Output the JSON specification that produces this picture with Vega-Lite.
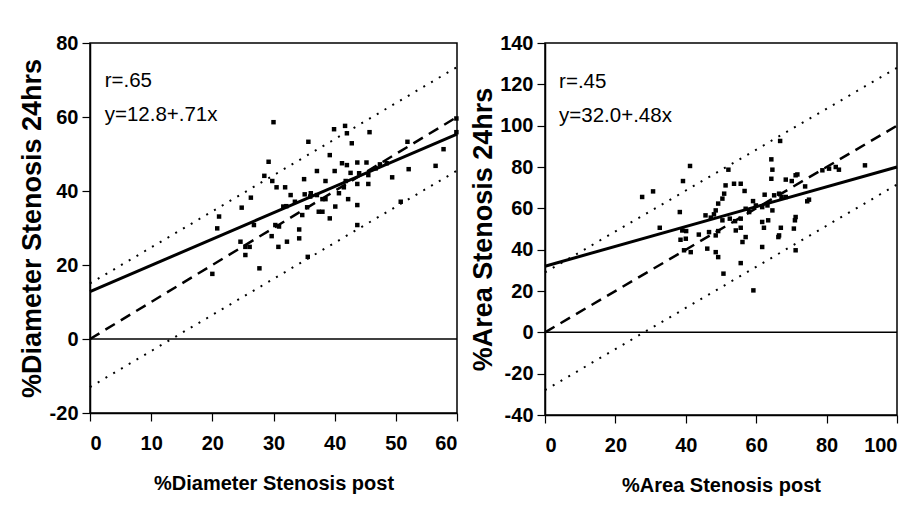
{
  "$schema": "https://vega.github.io/schema/vega-lite/v6.json",
  "background": "white",
  "padding": {"left": 17, "top": 32, "right": 5, "bottom": 5},
  "spacing": 88,
  "bounds": "flush",
  "datasets": {
    "diamPts": [
      {"x": 30.0, "y": 58.6}, {"x": 39.9, "y": 56.7}, {"x": 41.7, "y": 57.6}, {"x": 42.0, "y": 55.6},
      {"x": 45.7, "y": 55.9}, {"x": 35.7, "y": 53.3}, {"x": 42.8, "y": 52.9}, {"x": 51.9, "y": 53.3},
      {"x": 57.8, "y": 51.3}, {"x": 59.9, "y": 55.9}, {"x": 59.9, "y": 59.6}, {"x": 39.2, "y": 49.7},
      {"x": 29.2, "y": 47.9}, {"x": 41.2, "y": 47.5}, {"x": 42.0, "y": 47.0}, {"x": 43.7, "y": 47.7},
      {"x": 45.2, "y": 47.7}, {"x": 37.1, "y": 45.4}, {"x": 40.0, "y": 45.4}, {"x": 42.6, "y": 44.9},
      {"x": 47.4, "y": 47.2}, {"x": 48.5, "y": 47.5}, {"x": 52.1, "y": 45.9}, {"x": 56.5, "y": 46.8},
      {"x": 49.4, "y": 43.7}, {"x": 28.5, "y": 44.1}, {"x": 29.8, "y": 42.7}, {"x": 30.5, "y": 41.0},
      {"x": 31.9, "y": 41.0}, {"x": 38.5, "y": 42.7}, {"x": 45.5, "y": 44.3}, {"x": 45.5, "y": 41.9},
      {"x": 43.7, "y": 41.9}, {"x": 41.8, "y": 42.7}, {"x": 41.5, "y": 41.0}, {"x": 32.8, "y": 38.9},
      {"x": 35.1, "y": 39.1}, {"x": 36.1, "y": 39.4}, {"x": 37.1, "y": 38.9}, {"x": 38.0, "y": 37.8},
      {"x": 38.5, "y": 37.8}, {"x": 42.2, "y": 37.8}, {"x": 33.5, "y": 37.1}, {"x": 31.6, "y": 35.8},
      {"x": 32.1, "y": 35.9}, {"x": 26.3, "y": 38.2}, {"x": 24.8, "y": 35.5}, {"x": 35.5, "y": 35.6},
      {"x": 37.4, "y": 34.4}, {"x": 38.0, "y": 34.4}, {"x": 40.1, "y": 35.8}, {"x": 43.7, "y": 36.2},
      {"x": 39.2, "y": 32.6}, {"x": 34.7, "y": 33.5}, {"x": 30.3, "y": 30.8}, {"x": 30.9, "y": 30.4},
      {"x": 26.8, "y": 30.8}, {"x": 21.1, "y": 33.1}, {"x": 20.8, "y": 29.9}, {"x": 34.2, "y": 29.6},
      {"x": 29.7, "y": 27.8}, {"x": 32.2, "y": 26.3}, {"x": 34.2, "y": 27.2}, {"x": 30.8, "y": 24.9},
      {"x": 24.6, "y": 26.3}, {"x": 25.4, "y": 24.9}, {"x": 26.1, "y": 24.9}, {"x": 43.7, "y": 30.8},
      {"x": 50.8, "y": 37.1}, {"x": 27.7, "y": 19.1}, {"x": 20.0, "y": 17.6}, {"x": 35.6, "y": 22.2},
      {"x": 25.4, "y": 22.7}, {"x": 46.7, "y": 46.1}, {"x": 44.0, "y": 44.8}, {"x": 35.0, "y": 43.2},
      {"x": 36.0, "y": 38.5}, {"x": 40.7, "y": 39.4}
    ],
    "diamLines": [
      {"s": "zero", "x": 0, "y": 0}, {"s": "zero", "x": 60, "y": 0},
      {"s": "fit", "x": 0, "y": 12.8}, {"s": "fit", "x": 60, "y": 55.4},
      {"s": "ident", "x": 0, "y": 0}, {"s": "ident", "x": 60, "y": 60},
      {"s": "upper", "x": 0, "y": 15}, {"s": "upper", "x": 60, "y": 73.5},
      {"s": "lower", "x": 0, "y": -13}, {"s": "lower", "x": 60, "y": 45.5}
    ],
    "diamText": [
      {"x": 2.4, "y": 68.0, "label": "r=.65"},
      {"x": 2.4, "y": 58.8, "label": "y=12.8+.71x"}
    ],
    "areaPts": [
      {"x": 41.2, "y": 80.5}, {"x": 27.6, "y": 65.5}, {"x": 30.7, "y": 68.2}, {"x": 39.2, "y": 73.2},
      {"x": 38.3, "y": 58.2}, {"x": 32.6, "y": 50.6}, {"x": 52.1, "y": 78.7}, {"x": 64.3, "y": 83.7},
      {"x": 64.6, "y": 78.7}, {"x": 64.3, "y": 74.3}, {"x": 66.8, "y": 92.6}, {"x": 51.3, "y": 71.1},
      {"x": 53.7, "y": 71.9}, {"x": 55.6, "y": 71.9}, {"x": 56.7, "y": 68.4}, {"x": 50.9, "y": 67.1},
      {"x": 50.4, "y": 64.7}, {"x": 49.2, "y": 62.3}, {"x": 48.5, "y": 59.0}, {"x": 48.0, "y": 57.1},
      {"x": 45.6, "y": 56.6}, {"x": 47.1, "y": 55.5}, {"x": 50.4, "y": 54.2}, {"x": 52.5, "y": 55.0},
      {"x": 54.0, "y": 53.8}, {"x": 55.6, "y": 55.0}, {"x": 57.0, "y": 59.8}, {"x": 58.0, "y": 58.2},
      {"x": 59.1, "y": 63.5}, {"x": 59.9, "y": 61.4}, {"x": 62.4, "y": 66.6}, {"x": 61.7, "y": 60.6},
      {"x": 63.2, "y": 61.4}, {"x": 64.6, "y": 59.0}, {"x": 65.1, "y": 66.3}, {"x": 66.5, "y": 67.1},
      {"x": 67.2, "y": 65.5}, {"x": 68.4, "y": 73.9}, {"x": 70.1, "y": 73.2}, {"x": 68.4, "y": 65.5},
      {"x": 71.2, "y": 76.0}, {"x": 71.2, "y": 55.8}, {"x": 71.0, "y": 54.2}, {"x": 71.2, "y": 39.7},
      {"x": 39.0, "y": 49.3}, {"x": 40.1, "y": 49.0}, {"x": 38.5, "y": 44.8}, {"x": 40.0, "y": 45.3},
      {"x": 39.5, "y": 39.7}, {"x": 41.4, "y": 38.8}, {"x": 43.7, "y": 47.3}, {"x": 46.6, "y": 48.5},
      {"x": 48.5, "y": 46.9}, {"x": 49.2, "y": 49.0}, {"x": 46.1, "y": 40.5}, {"x": 48.5, "y": 38.8},
      {"x": 49.2, "y": 36.4}, {"x": 54.2, "y": 49.3}, {"x": 55.6, "y": 50.6}, {"x": 57.0, "y": 46.1},
      {"x": 56.1, "y": 43.7}, {"x": 61.7, "y": 53.4}, {"x": 62.2, "y": 50.6}, {"x": 63.4, "y": 54.2},
      {"x": 61.7, "y": 41.3}, {"x": 67.0, "y": 50.6}, {"x": 66.5, "y": 46.9}, {"x": 55.6, "y": 33.5},
      {"x": 50.7, "y": 28.4}, {"x": 59.2, "y": 20.3}, {"x": 78.8, "y": 78.4}, {"x": 80.7, "y": 79.2},
      {"x": 82.6, "y": 80.0}, {"x": 83.5, "y": 78.7}, {"x": 90.9, "y": 80.8}, {"x": 73.9, "y": 70.6},
      {"x": 74.5, "y": 63.4}, {"x": 75.0, "y": 64.2}, {"x": 70.7, "y": 50.2}, {"x": 71.7, "y": 76.4},
      {"x": 66.3, "y": 46.1}
    ],
    "areaLines": [
      {"s": "zero", "x": 0, "y": 0}, {"s": "zero", "x": 100, "y": 0},
      {"s": "fit", "x": 0, "y": 32.0}, {"s": "fit", "x": 100, "y": 80.0},
      {"s": "ident", "x": 0, "y": 0}, {"s": "ident", "x": 100, "y": 100},
      {"s": "upper", "x": 0, "y": 29}, {"s": "upper", "x": 100, "y": 128},
      {"s": "lower", "x": 0, "y": -28}, {"s": "lower", "x": 100, "y": 71.5}
    ],
    "areaText": [
      {"x": 4.0, "y": 118, "label": "r=.45"},
      {"x": 4.0, "y": 102, "label": "y=32.0+.48x"}
    ]
  },
  "config": {
    "view": {"stroke": "black", "strokeWidth": 1.5},
    "axis": {
      "grid": false,
      "domainColor": "black",
      "domainWidth": 1.5,
      "tickColor": "black",
      "tickWidth": 1.2,
      "tickSize": 8,
      "labelColor": "black",
      "labelFont": "Liberation Sans, Arial, sans-serif",
      "labelFontWeight": "bold",
      "labelFontSize": 20,
      "titleColor": "black",
      "titleFontWeight": "bold"
    },
    "axisX": {
      "labelPadding": 12,
      "titleFont": "Liberation Sans, Arial, sans-serif",
      "titleFontSize": 20,
      "titlePadding": 20
    },
    "axisY": {
      "labelPadding": 4,
      "titleFont": "Liberation Sans, Arial, sans-serif",
      "titleFontSize": 27,
      "titlePadding": 3
    }
  },
  "hconcat": [
    {
      "width": 367,
      "height": 370,
      "encoding": {
        "x": {"field": "x", "type": "quantitative",
          "scale": {"domain": [0, 60], "nice": false, "zero": false},
          "axis": {"values": [0, 10, 20, 30, 40, 50, 60], "title": "%Diameter Stenosis post"}},
        "y": {"field": "y", "type": "quantitative",
          "scale": {"domain": [-20, 80], "nice": false, "zero": false},
          "axis": {"values": [-20, 0, 20, 40, 60, 80], "title": "%Diameter Stenosis 24hrs",
            "labelExpr": "datum.value < 0 ? '-' + (-datum.value) : '' + datum.value"}}
      },
      "layer": [
        {"data": {"name": "diamLines"}, "transform": [{"filter": "datum.s === 'zero'"}],
         "mark": {"type": "line", "color": "black", "strokeWidth": 1.5}},
        {"data": {"name": "diamLines"}, "transform": [{"filter": "datum.s === 'upper' || datum.s === 'lower'"}],
         "mark": {"type": "line", "color": "black", "strokeWidth": 2, "strokeDash": [2, 7]},
         "encoding": {"detail": {"field": "s"}}},
        {"data": {"name": "diamLines"}, "transform": [{"filter": "datum.s === 'ident'"}],
         "mark": {"type": "line", "color": "black", "strokeWidth": 2.5, "strokeDash": [11, 7]}},
        {"data": {"name": "diamLines"}, "transform": [{"filter": "datum.s === 'fit'"}],
         "mark": {"type": "line", "color": "black", "strokeWidth": 3}},
        {"data": {"name": "diamPts"},
         "mark": {"type": "point", "shape": "square", "filled": true, "color": "black", "size": 20, "opacity": 1}},
        {"data": {"name": "diamText"},
         "mark": {"type": "text", "align": "left", "baseline": "alphabetic", "color": "black",
           "font": "Liberation Sans, Arial, sans-serif", "fontSize": 20.5},
         "encoding": {"text": {"field": "label"}}}
      ]
    },
    {
      "width": 352,
      "height": 372,
      "encoding": {
        "x": {"field": "x", "type": "quantitative",
          "scale": {"domain": [0, 100], "nice": false, "zero": false},
          "axis": {"values": [0, 20, 40, 60, 80, 100], "title": "%Area Stenosis post"}},
        "y": {"field": "y", "type": "quantitative",
          "scale": {"domain": [-40, 140], "nice": false, "zero": false},
          "axis": {"values": [-40, -20, 0, 20, 40, 60, 80, 100, 120, 140], "title": "%Area Stenosis 24hrs",
            "titlePadding": 2,
            "labelExpr": "datum.value < 0 ? '-' + (-datum.value) : '' + datum.value"}}
      },
      "layer": [
        {"data": {"name": "areaLines"}, "transform": [{"filter": "datum.s === 'zero'"}],
         "mark": {"type": "line", "color": "black", "strokeWidth": 1.5}},
        {"data": {"name": "areaLines"}, "transform": [{"filter": "datum.s === 'upper' || datum.s === 'lower'"}],
         "mark": {"type": "line", "color": "black", "strokeWidth": 2, "strokeDash": [2, 7]},
         "encoding": {"detail": {"field": "s"}}},
        {"data": {"name": "areaLines"}, "transform": [{"filter": "datum.s === 'ident'"}],
         "mark": {"type": "line", "color": "black", "strokeWidth": 2.5, "strokeDash": [11, 7]}},
        {"data": {"name": "areaLines"}, "transform": [{"filter": "datum.s === 'fit'"}],
         "mark": {"type": "line", "color": "black", "strokeWidth": 3}},
        {"data": {"name": "areaPts"},
         "mark": {"type": "point", "shape": "square", "filled": true, "color": "black", "size": 20, "opacity": 1}},
        {"data": {"name": "areaText"},
         "mark": {"type": "text", "align": "left", "baseline": "alphabetic", "color": "black",
           "font": "Liberation Sans, Arial, sans-serif", "fontSize": 20.5},
         "encoding": {"text": {"field": "label"}}}
      ]
    }
  ]
}
